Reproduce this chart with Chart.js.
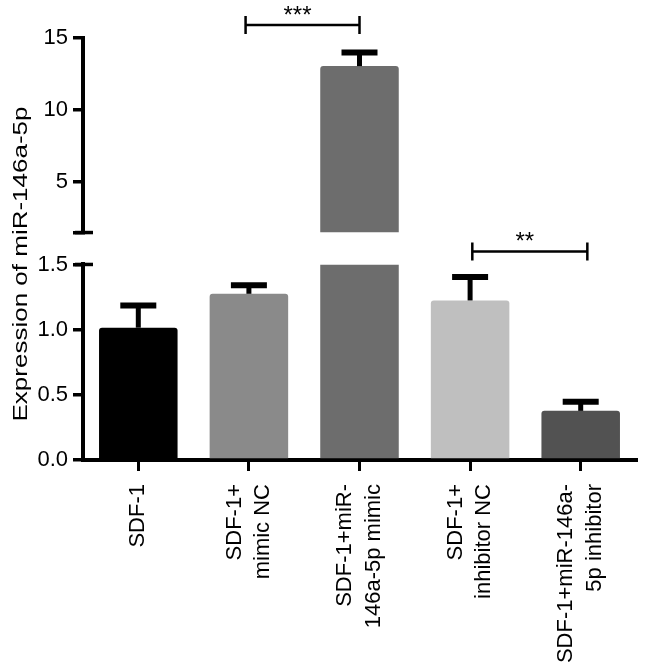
<!DOCTYPE html>
<html>
<head>
<meta charset="utf-8">
<script src="https://cdn.jsdelivr.net/npm/chart.js@4.4.0/dist/chart.umd.min.js"></script>
<style>
  body { margin: 0; background: #fff; }
</style>
</head>
<body>
<canvas id="mirChart" width="646" height="672"></canvas>
<script>
const categories = [
  ['SDF-1'],
  ['SDF-1+', 'mimic NC'],
  ['SDF-1+miR-', '146a-5p mimic'],
  ['SDF-1+', 'inhibitor NC'],
  ['SDF-1+miR-146a-', '5p inhibitor']
];
const expression = [1.015, 1.275, 13.05, 1.224, 0.377];
const errorUp = [0.17, 0.065, 0.95, 0.18, 0.07];
const barColors = ['#000000', '#8a8a8a', '#6d6d6d', '#bfbfbf', '#525252'];

const upperTicks = [5, 10, 15];
const lowerTicks = [0, 0.5, 1.0, 1.5];
const breakValue = 1.5; // y axis is split here
const upperMax = 15;
const yTitle = 'Expression of miR-146a-5p';

// significance brackets (in category units)
const sigStarts = [0.97, 3.02];
const sigEnds = [2.0, 4.06];
const sigLabels = ['***', '**'];
const sigLevels = [15.9, 1.6];
const sigAxes = ['yTop', 'yBot'];

const FONT = '"Liberation Sans", Arial, Helvetica, sans-serif';

// keep each bar dataset inside its own y segment
const segmentClip = {
  id: 'segmentClip',
  beforeDatasetDraw(chart, args) {
    const yScale = chart.scales[args.meta.yAxisID];
    const area = chart.chartArea;
    chart.ctx.save();
    chart.ctx.beginPath();
    chart.ctx.rect(area.left, yScale.top, area.right - area.left, yScale.bottom - yScale.top);
    chart.ctx.clip();
  },
  afterDatasetDraw(chart) {
    chart.ctx.restore();
  }
};

const errorBars = {
  id: 'errorBars',
  afterDatasetsDraw(chart) {
    const ctx = chart.ctx;
    const x = chart.scales.x;
    ctx.save();
    ctx.strokeStyle = '#000';
    expression.forEach((v, i) => {
      const y = v > breakValue ? chart.scales.yTop : chart.scales.yBot;
      const px = x.getPixelForValue(i);
      const yBar = y.getPixelForValue(v);
      const yCap = y.getPixelForValue(v + errorUp[i]);
      ctx.lineWidth = 5;
      ctx.beginPath();
      ctx.moveTo(px, yBar);
      ctx.lineTo(px, yCap);
      ctx.stroke();
      ctx.lineWidth = 6;
      ctx.beginPath();
      ctx.moveTo(px - 18, yCap);
      ctx.lineTo(px + 18, yCap);
      ctx.stroke();
    });
    ctx.restore();
  }
};

const breakMarks = {
  id: 'breakMarks',
  afterDraw(chart) {
    const ctx = chart.ctx;
    const ax = chart.chartArea.left;
    ctx.save();
    ctx.strokeStyle = '#000';
    ctx.lineWidth = 3.5;
    [chart.scales.yTop.getPixelForValue(breakValue), chart.scales.yBot.getPixelForValue(breakValue)].forEach(py => {
      ctx.beginPath();
      ctx.moveTo(ax - 8, py);
      ctx.lineTo(ax + 10, py);
      ctx.stroke();
    });
    ctx.restore();
  }
};

const significance = {
  id: 'significance',
  afterDraw(chart) {
    const ctx = chart.ctx;
    const x = chart.scales.x;
    ctx.save();
    ctx.strokeStyle = '#000';
    ctx.fillStyle = '#000';
    ctx.lineWidth = 2.5;
    ctx.font = '24px ' + FONT;
    ctx.textAlign = 'center';
    ctx.textBaseline = 'alphabetic';
    sigLabels.forEach((label, i) => {
      const y = chart.scales[sigAxes[i]].getPixelForValue(sigLevels[i]);
      const x1 = x.getPixelForValue(sigStarts[i]);
      const x2 = x.getPixelForValue(sigEnds[i]);
      ctx.beginPath();
      ctx.moveTo(x1, y);
      ctx.lineTo(x2, y);
      ctx.moveTo(x1, y - 9);
      ctx.lineTo(x1, y + 9);
      ctx.moveTo(x2, y - 9);
      ctx.lineTo(x2, y + 9);
      ctx.stroke();
      ctx.fillText(label, (x1 + x2) / 2 - 5, y - 2);
    });
    ctx.restore();
  }
};

// rotated category labels, each block centred on its tick
const xLabels = {
  id: 'xLabels',
  afterDraw(chart) {
    const ctx = chart.ctx;
    const x = chart.scales.x;
    const lineGap = 28.6;
    const yEnd = chart.chartArea.bottom + 24;
    ctx.save();
    ctx.fillStyle = '#000';
    ctx.font = '22px ' + FONT;
    ctx.textAlign = 'right';
    ctx.textBaseline = 'middle';
    categories.forEach((lines, i) => {
      const px = x.getPixelForValue(i);
      lines.forEach((line, j) => {
        const lx = px + (j - (lines.length - 1) / 2) * lineGap;
        ctx.save();
        ctx.translate(lx, yEnd);
        ctx.rotate(-Math.PI / 2);
        ctx.fillText(line, 0, 0);
        ctx.restore();
      });
    });
    ctx.restore();
  }
};

// y title spans both axis segments
const yTitlePlugin = {
  id: 'yTitlePlugin',
  afterDraw(chart) {
    const ctx = chart.ctx;
    ctx.save();
    ctx.fillStyle = '#000';
    ctx.font = '20px ' + FONT;
    ctx.textAlign = 'center';
    ctx.textBaseline = 'middle';
    ctx.translate(21, 264);
    ctx.rotate(-Math.PI / 2);
    ctx.scale(1.3, 1);
    ctx.fillText(yTitle, 0, 0);
    ctx.restore();
  }
};

const yGrid = { drawOnChartArea: false, color: '#000', lineWidth: 3.5, tickLength: 10 };
const yBorder = { color: '#000', width: 4 };
const tickFont = { family: FONT, size: 22 };

const ctx = document.getElementById('mirChart').getContext('2d');
const chart = new Chart(ctx, {
  type: 'bar',
  data: {
    labels: categories,
    datasets: [
      {
        label: 'lower',
        data: expression,
        yAxisID: 'yBot',
        backgroundColor: barColors,
        borderRadius: 3,
        grouped: false,
        categoryPercentage: 1,
        barPercentage: 0.71
      },
      {
        label: 'upper',
        data: expression,
        yAxisID: 'yTop',
        backgroundColor: barColors,
        borderRadius: 3,
        grouped: false,
        categoryPercentage: 1,
        barPercentage: 0.71
      }
    ]
  },
  options: {
    responsive: false,
    animation: false,
    layout: { padding: { top: 38, right: 10, left: 0, bottom: 0 } },
    plugins: {
      legend: { display: false },
      tooltip: { enabled: false }
    },
    scales: {
      x: {
        grid: { drawOnChartArea: false, color: '#000', lineWidth: 3, tickLength: 11, offset: false },
        border: { color: '#000', width: 4 },
        ticks: { display: false, autoSkip: false },
        afterFit(scale) { scale.height = 212; }
      },
      yBot: {
        type: 'linear',
        position: 'left',
        stack: 'yaxis',
        stackWeight: 196,
        min: 0,
        max: breakValue,
        grid: yGrid,
        border: yBorder,
        ticks: {
          color: '#000',
          font: tickFont,
          padding: 5,
          callback: v => Number(v).toFixed(1)
        },
        afterBuildTicks(scale) { scale.ticks = lowerTicks.map(v => ({ value: v })); },
        afterFit(scale) { scale.width = 83; }
      },
      yGap: {
        type: 'linear',
        position: 'left',
        stack: 'yaxis',
        stackWeight: 32,
        min: 0,
        max: 1,
        grid: { display: false },
        border: { display: false },
        ticks: { display: false },
        afterFit(scale) { scale.width = 83; }
      },
      yTop: {
        type: 'linear',
        position: 'left',
        stack: 'yaxis',
        stackWeight: 195,
        min: breakValue,
        max: upperMax,
        grid: yGrid,
        border: yBorder,
        ticks: {
          color: '#000',
          font: tickFont,
          padding: 5,
          callback: v => (upperTicks.includes(v) ? String(v) : '')
        },
        afterBuildTicks(scale) { scale.ticks = [breakValue].concat(upperTicks).map(v => ({ value: v })); },
        afterFit(scale) { scale.width = 83; }
      }
    }
  },
  plugins: [segmentClip, errorBars, breakMarks, significance, xLabels, yTitlePlugin]
});
</script>
</body>
</html>
